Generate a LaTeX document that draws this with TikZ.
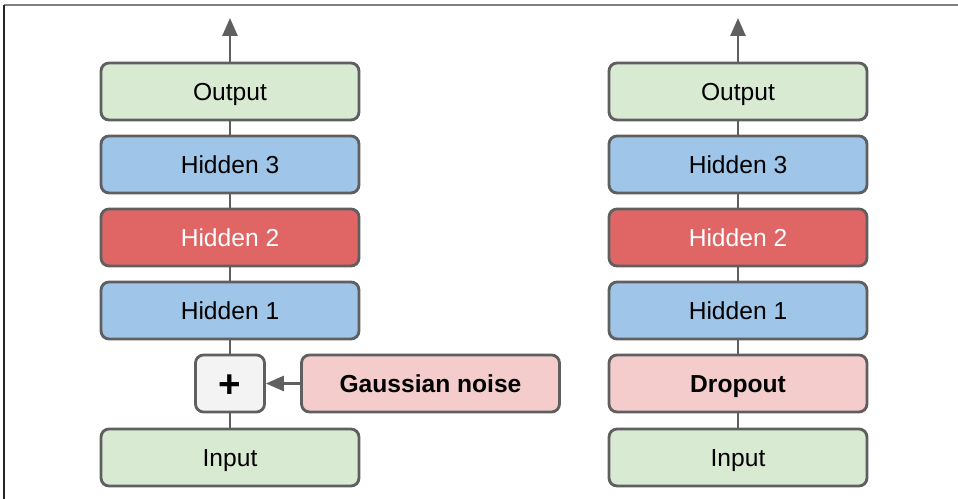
\documentclass[tikz,border=0pt]{standalone}
\usepackage{fontspec}
\setmainfont{Liberation Sans}
\usetikzlibrary{arrows.meta}

\definecolor{inGreen}{HTML}{D9EAD3}
\definecolor{hidBlue}{HTML}{9FC5E8}
\definecolor{hidRed}{HTML}{E06666}
\definecolor{noisePink}{HTML}{F4CCCC}
\definecolor{plusGray}{HTML}{F3F3F3}
\definecolor{edgeGray}{HTML}{5F5F5F}

\begin{document}
\begin{tikzpicture}[
  x=0.02cm, y=-0.02cm,
  font=\fontsize{14}{16}\selectfont,
  layer/.style={draw=edgeGray, line width=1.6pt, rounded corners=0.16cm,
    minimum width=5.16cm, minimum height=1.14cm, inner sep=0pt,
    text height=10pt, text depth=0pt},
  link/.style={draw=edgeGray, line width=1.6pt},
  flow/.style={link, -{Triangle[length=0.36cm, width=0.3cm]}}
]

% Frame
\useasboundingbox (0,0) rectangle (958,499);
\draw[gray, line width=1.2pt] (4,5) -- (958,5);
\draw[black!85, line width=1.2pt] (4,5) -- (4,499);

% Column positions (x)
\def\xL{230}
\def\xR{738}

% Left column: Gaussian noise
\node[layer, fill=inGreen] (inL) at (\xL,457.5) {Input};
\node[layer, fill=plusGray, minimum width=1.38cm, text height=15.4pt,
  font=\fontsize{22}{22}\selectfont] (plus) at (\xL,383.5) {\textbf{+}};
\node[layer, fill=noisePink] (noise) at (430.5,383.5) {\textbf{Gaussian noise}};
\node[layer, fill=hidBlue] (h1L) at (\xL,310.5) {Hidden 1};
\node[layer, fill=hidRed, text=white] (h2L) at (\xL,237.5) {Hidden 2};
\node[layer, fill=hidBlue] (h3L) at (\xL,164.5) {Hidden 3};
\node[layer, fill=inGreen] (outL) at (\xL,91.5) {Output};
\coordinate (topL) at (\xL,18);

% Right column: Dropout
\node[layer, fill=inGreen] (inR) at (\xR,457.5) {Input};
\node[layer, fill=noisePink] (drop) at (\xR,383.5) {\textbf{Dropout}};
\node[layer, fill=hidBlue] (h1R) at (\xR,310.5) {Hidden 1};
\node[layer, fill=hidRed, text=white] (h2R) at (\xR,237.5) {Hidden 2};
\node[layer, fill=hidBlue] (h3R) at (\xR,164.5) {Hidden 3};
\node[layer, fill=inGreen] (outR) at (\xR,91.5) {Output};
\coordinate (topR) at (\xR,18);

% Links between layers
\draw[link] (inL) -- (plus);
\draw[link] (plus) -- (h1L);
\draw[link] (h1L) -- (h2L);
\draw[link] (h2L) -- (h3L);
\draw[link] (h3L) -- (outL);
\draw[flow] (outL) -- (topL);
\draw[flow] (noise) -- (plus);

\draw[link] (inR) -- (drop);
\draw[link] (drop) -- (h1R);
\draw[link] (h1R) -- (h2R);
\draw[link] (h2R) -- (h3R);
\draw[link] (h3R) -- (outR);
\draw[flow] (outR) -- (topR);

\end{tikzpicture}
\end{document}
